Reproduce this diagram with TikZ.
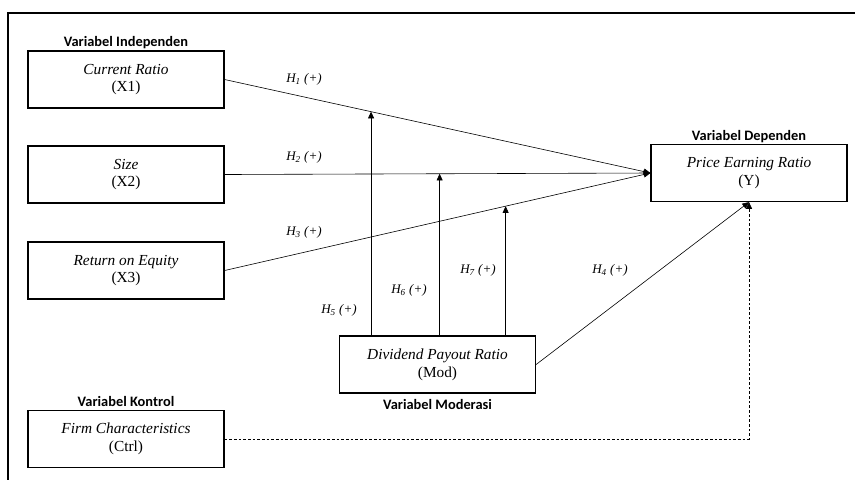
\documentclass[tikz,border=0pt]{standalone}
\usepackage{fontspec}
\setmainfont{Liberation Serif}
\newfontfamily\labelfont{Carlito}
\usetikzlibrary{arrows.meta,positioning,calc}

\tikzset{
  varbox/.style={draw,line width=0.9pt,minimum width=147pt,minimum height=42.75pt,
    align=center,inner sep=0pt,font=\fontsize{11.5}{13.3}\selectfont},
  grouplabel/.style={inner sep=0pt,text depth=0pt,font=\labelfont\bfseries\fontsize{10.8}{12}\selectfont},
  hyp/.style={font=\itshape\fontsize{9.8}{11}\selectfont},
  link/.style={line width=0.45pt,-{Triangle[length=5pt,width=4.5pt]}},
}

\begin{document}
\begin{tikzpicture}[x=0.75pt,y=-0.75pt]
    \useasboundingbox (0,0) rectangle (855,480);
    % frame
    \draw[line width=0.8pt] (855,13) -- (8,13) -- (8,480);

    % variables
    \node[varbox] (x1) at (126,79.5) {\textit{Current Ratio}\\(X1)};
    \node[varbox] (x2) at (126,174.5) {\textit{Size}\\(X2)};
    \node[varbox] (x3) at (126,270.5) {\textit{Return on Equity}\\(X3)};
    \node[varbox] (ctrl) at (126,439) {\textit{Firm Characteristics}\\(Ctrl)};
    \node[varbox] (mod) at (437.5,364.5) {\textit{Dividend Payout Ratio}\\(Mod)};
    \node[varbox] (y) at (749,173) {\textit{Price Earning Ratio}\\(Y)};

    % group labels
    \node[grouplabel,above=2.5pt of x1] {Variabel Independen};
    \node[grouplabel,above=2.5pt of y] {Variabel Dependen};
    \node[grouplabel,above=2pt of ctrl] {Variabel Kontrol};
    \node[grouplabel,below=4pt of mod] {Variabel Moderasi};

    % direct effects
    \draw[link] (x1.east) -- (y.west);
    \draw[link] (x2.east) -- (y.west);
    \draw[link] (x3.east) -- (y.west);
    \draw[link] (mod.east) -- (y.south);
    \draw[link,dash pattern=on 2pt off 1.5pt] (ctrl.east) -| (y.south);

    % moderation
    \path (x1.east) -- (y.west) coordinate[pos=0.344] (m1);
    \path (x2.east) -- (y.west) coordinate[pos=0.505] (m2);
    \path (x3.east) -- (y.west) coordinate[pos=0.660] (m3);
    \draw[link] (mod.north -| m1) -- (m1);
    \draw[link] (mod.north -| m2) -- (m2);
    \draw[link] (mod.north -| m3) -- (m3);

    % hypotheses
    \node[hyp] (h1) at (304,79) {H\textsubscript{1} (+)};
    \node[hyp] (h2) at (304,157) {H\textsubscript{2} (+)};
    \node[hyp] (h3) at (304,232) {H\textsubscript{3} (+)};
    \node[hyp] (h4) at (610,270) {H\textsubscript{4} (+)};
    \node[hyp] (h5) at (339,310) {H\textsubscript{5} (+)};
    \node[hyp] (h6) at (409,290) {H\textsubscript{6} (+)};
    \node[hyp] (h7) at (478,270) {H\textsubscript{7} (+)};
\end{tikzpicture}
\end{document}
